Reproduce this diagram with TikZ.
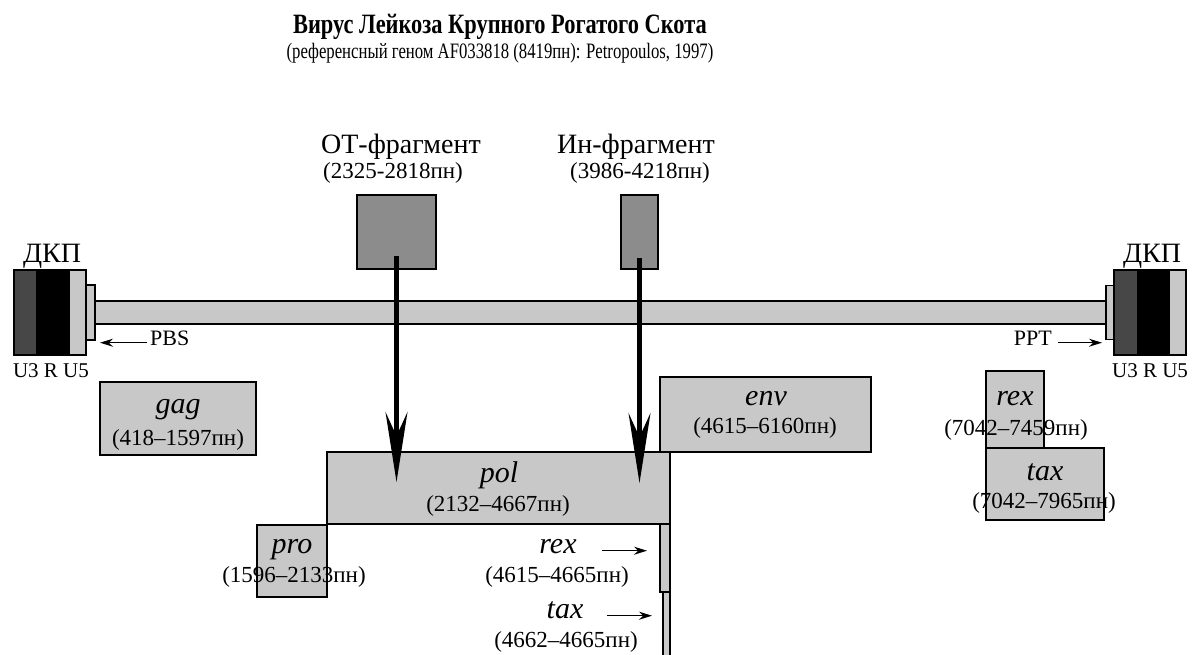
\documentclass[tikz,border=0pt]{standalone}
\usepackage{fontspec}
\setmainfont{Liberation Serif}
\newfontfamily\narrowfont[FakeStretch=0.80]{Liberation Serif}
\newfontfamily\subfont[FakeStretch=0.76]{Liberation Serif}
\usetikzlibrary{arrows.meta,positioning,calc}
\definecolor{genefill}{HTML}{C8C8C8}
\definecolor{fragfill}{HTML}{8C8C8C}
\definecolor{ltrdark}{HTML}{474747}

\begin{document}
\begin{tikzpicture}[x=1pt,y=-1pt,
  genebox/.style={draw, line width=1.2pt, fill=genefill, inner sep=0pt, outer sep=0pt, anchor=north west},
  fragbox/.style={draw, line width=1.2pt, fill=fragfill, inner sep=0pt, outer sep=0pt, anchor=north west},
  ltrpart/.style={draw, line width=1.2pt, inner sep=0pt, outer sep=0pt, minimum height=85},
  gname/.style={font=\fontsize{30}{32}\selectfont\itshape, anchor=base, inner sep=0pt},
  gnum/.style={font=\fontsize{23}{25}\selectfont, anchor=base, inner sep=0pt},
  flabel/.style={font=\fontsize{28}{30}\selectfont, anchor=base, inner sep=0pt},
  slabel/.style={font=\fontsize{22}{24}\selectfont, anchor=base, inner sep=0pt},
  thinarr/.style={-{Stealth[length=13pt, width=8pt]}, line width=1.5pt},
  bigarr/.style={-{Stealth[length=70pt, width=22pt, inset=24pt]}, line width=4.5pt}
]
  \useasboundingbox (0,0) rectangle (1192,654);

  % title
  \node[font=\fontsize{28}{30}\selectfont\narrowfont\bfseries, anchor=base, inner sep=0pt] (title) at (500,33) {Вирус Лейкоза Крупного Рогатого Скота};
  \node[font=\fontsize{22}{24}\selectfont\subfont, anchor=base, inner sep=0pt] (subtitle) at (500,58) {(референсный геном AF033818 (8419пн): Petropoulos, 1997)};

  % provirus: left LTR, body, right LTR
  \node[ltrpart, fill=ltrdark, minimum width=23, anchor=north west] (lU3) at (14,270) {};
  \node[ltrpart, fill=black, minimum width=32, right=0pt of lU3] (lR) {};
  \node[ltrpart, fill=genefill, minimum width=17, right=0pt of lR] (lU5) {};
  \node[ltrpart, fill=genefill, minimum width=9, minimum height=55, right=0pt of lU5] (lpbs) {};
  \node[ltrpart, fill=genefill, minimum width=1011, minimum height=23, right=0pt of lpbs] (body) {};
  \node[ltrpart, fill=genefill, minimum width=8, minimum height=54, right=0pt of body] (rppt) {};
  \node[ltrpart, fill=ltrdark, minimum width=24, right=0pt of rppt] (rU3) {};
  \node[ltrpart, fill=black, minimum width=31, right=0pt of rU3] (rR) {};
  \node[ltrpart, fill=genefill, minimum width=17, right=0pt of rR] (rU5) {};

  \node[flabel] (lltr) at (52,262) {ДКП};
  \node[flabel] (rltr) at (1152,262) {ДКП};
  \node[slabel, font=\fontsize{21}{23}\selectfont] (lparts) at (51,377) {U3 R U5};
  \node[slabel, font=\fontsize{21}{23}\selectfont] (rparts) at (1150,377) {U3 R U5};

  \node[slabel, anchor=base west] (pbs) at (150,345) {PBS};
  \node[slabel, anchor=base east] (ppt) at (1052,345) {PPT};
  \draw[thinarr] ([xshift=-3pt]pbs.mid west) -- ([xshift=5pt]lpbs.east |- pbs.mid west);
  \draw[thinarr] ([xshift=6pt]ppt.mid east) -- ([xshift=-4pt]rppt.west |- ppt.mid east);

  % fragments
  \node[fragbox, minimum width=79, minimum height=74] (ot) at (357,195) {};
  \node[fragbox, minimum width=37, minimum height=74] (in) at (621,195) {};
  \node[flabel] (otname) at (401,153) {ОТ-фрагмент};
  \node[gnum] (otpos) at (393,178) {(2325-2818пн)};
  \node[flabel] (inname) at (636,153) {Ин-фрагмент};
  \node[gnum] (inpos) at (640,178) {(3986-4218пн)};

  % genes
  \node[genebox, minimum width=156, minimum height=73] (gag) at (100,382) {};
  \node[genebox, minimum width=211, minimum height=75] (env) at (660,377) {};
  \node[genebox, minimum width=343, minimum height=72] (pol) at (327,452) {};
  \node[genebox, minimum width=70, minimum height=72] (pro) at (257,525) {};
  \node[genebox, minimum width=10, minimum height=68] (rexbar) at (660,524) {};
  \node[genebox, minimum width=7, minimum height=72] (taxbar) at (663,592) {};
  \node[genebox, minimum width=58, minimum height=77] (rex) at (986,371) {};
  \node[genebox, minimum width=118, minimum height=72] (tax) at (986,448) {};

  \node[gname] (gagn) at (178,413) {gag};
  \node[gnum] (gagp) at (178,445) {(418–1597пн)};
  \node[gname] (envn) at (766,405) {env};
  \node[gnum] (envp) at (765,433) {(4615–6160пн)};
  \node[gname] (poln) at (499,482) {pol};
  \node[gnum] (polp) at (498,511) {(2132–4667пн)};
  \node[gname] (pron) at (292,553) {pro};
  \node[gnum] (prop) at (294,582) {(1596–2133пн)};
  \node[gname] (rexn) at (558,553) {rex};
  \node[gnum] (rexp) at (557,582) {(4615–4665пн)};
  \node[gname] (taxn) at (565,618) {tax};
  \node[gnum] (taxp) at (566,647) {(4662–4665пн)};
  \node[gname] (rrexn) at (1015,405) {rex};
  \node[gnum] (rrexp) at (1016,435) {(7042–7459пн)};
  \node[gname] (rtaxn) at (1045,480) {tax};
  \node[gnum] (rtaxp) at (1044,508) {(7042–7965пн)};

  \draw[thinarr] ([xshift=-58pt]rexbar.west |- rexn.mid) -- ([xshift=-13pt]rexbar.west |- rexn.mid);
  \draw[thinarr] ([xshift=-56pt]taxbar.west |- taxn.mid) -- ([xshift=-11pt]taxbar.west |- taxn.mid);

  % insertion arrows
  \draw[bigarr] ([yshift=-61pt]ot.north) -- ([yshift=-30pt]ot.north |- pol.north);
  \draw[bigarr] ([yshift=-63pt]in.north) -- ([yshift=-31pt]in.north |- pol.north);
\end{tikzpicture}
\end{document}
